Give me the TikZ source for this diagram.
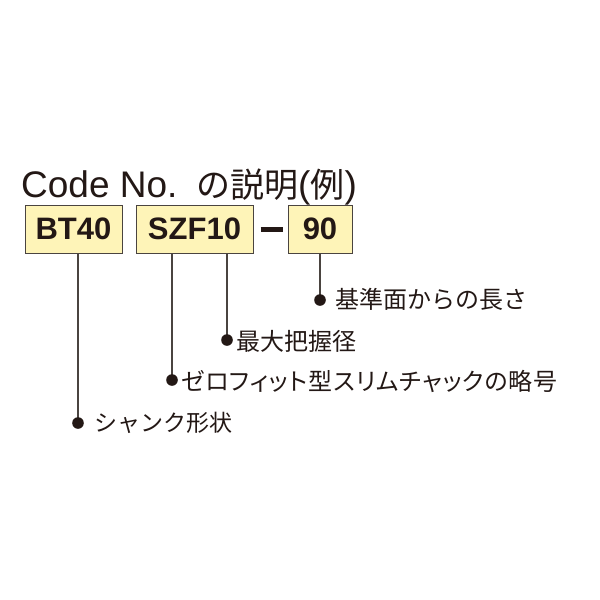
\documentclass[tikz,border=0pt]{standalone}
\usepackage{fontspec}
\setmainfont{Liberation Sans}
\newfontfamily\jp{Noto Sans CJK JP}
\newfontfamily\jpp[RawFeature=+palt,LetterSpace=3.6]{Noto Sans CJK JP}
\definecolor{boxfill}{HTML}{FEF4B8}
\definecolor{ink}{HTML}{231815}
\definecolor{edge}{HTML}{4A4440}
\begin{document}
\begin{tikzpicture}[x=1pt,y=-1pt,
  codebox/.style={draw=edge,line width=1pt,fill=boxfill,minimum height=48pt,inner sep=0pt,
    font=\fontsize{31}{31}\selectfont\bfseries,text=ink},
  leader/.style={draw=edge,line width=1.1pt},
  bullet/.style={fill=ink},
  lbl/.style={anchor=west,inner sep=0pt,text=ink,font=\jp\fontsize{24}{26}\selectfont}]
\useasboundingbox (0,0) rectangle (600,600);
\node[anchor=base west,inner sep=0pt,text=ink] (title) at (21,197)
  {\fontsize{37}{37}\selectfont Code No.\hspace{5pt} {\jp\fontsize{34}{34}\selectfont の説明}({\jp\fontsize{34}{34}\selectfont 例})};
\node[codebox,minimum width=97pt] (bt) at (73.5,229) {BT40};
\node[codebox,minimum width=117pt] (szf) at (194.5,229) {SZF10};
\node[codebox,minimum width=64pt] (n90) at (320,229) {90};
\draw[ink,line width=5pt] ([xshift=7pt]szf.east) -- ([xshift=-5pt]n90.west);
\coordinate (d1) at (320,300);
\coordinate (d2) at (227,340);
\coordinate (d3) at (172,380);
\coordinate (d4) at (78,423);
\draw[leader] (n90.south -| d1) -- (d1);
\draw[leader] (szf.south -| d2) -- (d2);
\draw[leader] (szf.south -| d3) -- (d3);
\draw[leader] (bt.south -| d4) -- (d4);
\foreach \d in {d1,d2,d3,d4} \fill[bullet] (\d) circle (5.8pt);
\node[lbl] (l1) at (335,299) {基準面からの長さ};
\node[lbl] (l2) at (236,341) {最大把握径};
\node[lbl,font=\jpp\fontsize{24}{26}\selectfont] (l3) at (181,381) {ゼロフィット型スリムチャックの略号};
\node[lbl,font=\jp\fontsize{23}{25}\selectfont] (l4) at (94,423) {シャンク形状};
\end{tikzpicture}
\end{document}
